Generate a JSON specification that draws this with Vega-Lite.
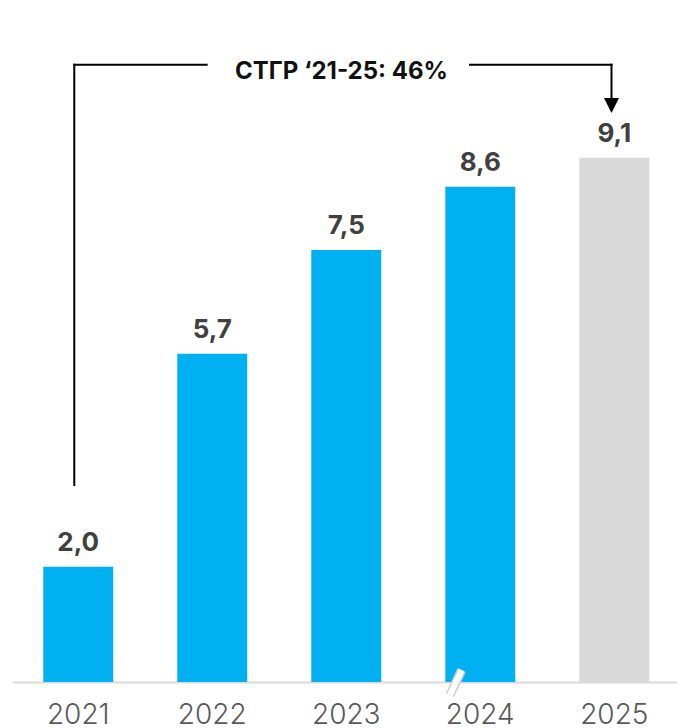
{
  "$schema": "https://vega.github.io/schema/vega-lite/v6.json",
  "width": 665,
  "height": 682,
  "autosize": {"type": "none"},
  "padding": {"left": 12, "top": 0, "right": 0, "bottom": 46},
  "background": "white",
  "config": {"view": {"stroke": null}},
  "datasets": {
    "bars": [
      {"year": "2021", "value": 2.0, "label": "2,0", "kind": "fact"},
      {"year": "2022", "value": 5.7, "label": "5,7", "kind": "fact"},
      {"year": "2023", "value": 7.5, "label": "7,5", "kind": "fact"},
      {"year": "2024", "value": 8.6, "label": "8,6", "kind": "fact"},
      {"year": "2025", "value": 9.1, "label": "9,1", "kind": "forecast"}
    ],
    "segments": [
      {"x": 2020.970, "x2": 2020.970, "y": 10.717, "y2": 3.420},
      {"x": 2020.970, "x2": 2021.958, "y": 10.717, "y2": 10.717},
      {"x": 2023.923, "x2": 2024.979, "y": 10.717, "y2": 10.717},
      {"x": 2024.979, "x2": 2024.979, "y": 10.717, "y2": 10.139}
    ],
    "arrow": [{"x": 2024.979, "y": 10.009}],
    "note": [{"x": 2022.964, "y": 10.464, "text": "СТГР ‘21-25: 46%"}],
    "brk": [{"x": 2023.861, "x2": 2023.774, "y": 0.208, "y2": -0.226}]
  },
  "layer": [
    {
      "data": {"name": "bars"},
      "encoding": {
        "x": {
          "field": "year",
          "type": "nominal",
          "sort": null,
          "scale": {"paddingInner": 0.478, "paddingOuter": 0.2201, "align": 0.53},
          "axis": {
            "title": null,
            "labelAngle": 0,
            "ticks": false,
            "grid": false,
            "domainColor": "#D9D9D9",
            "domainWidth": 2,
            "labelFont": "Inter",
            "labelFontSize": 28,
            "labelFontWeight": 300,
            "labelColor": "#595959",
            "labelPadding": 19
          }
        },
        "y": {
          "field": "value",
          "type": "quantitative",
          "scale": {"domain": [0, 11.84], "nice": false, "zero": true},
          "axis": null
        }
      },
      "layer": [
        {
          "mark": {"type": "bar"},
          "encoding": {
            "color": {
              "field": "kind",
              "type": "nominal",
              "scale": {"domain": ["fact", "forecast"], "range": ["#00B0F0", "#D9D9D9"]},
              "legend": null
            }
          }
        },
        {
          "mark": {
            "type": "text",
            "baseline": "alphabetic",
            "align": "center",
            "dy": -16,
            "font": "Inter",
            "fontSize": 26,
            "fontWeight": 700,
            "color": "#404040"
          },
          "encoding": {"text": {"field": "label"}}
        }
      ]
    },
    {
      "layer": [
        {
          "data": {"name": "brk"},
          "mark": {"type": "rule", "color": "#CFCFCF", "strokeWidth": 9, "strokeCap": "butt"},
          "encoding": {
            "x": {"field": "x", "type": "quantitative", "scale": {"domain": [2020.5052, 2025.4679], "nice": false, "zero": false}, "axis": null},
            "x2": {"field": "x2"},
            "y": {"field": "y", "type": "quantitative", "scale": {"domain": [0, 11.84], "nice": false, "zero": true}, "axis": null},
            "y2": {"field": "y2"}
          }
        },
        {
          "data": {"name": "brk"},
          "mark": {"type": "rule", "color": "#FFFFFF", "strokeWidth": 6, "strokeCap": "butt"},
          "encoding": {
            "x": {"field": "x", "type": "quantitative", "axis": null},
            "x2": {"field": "x2"},
            "y": {"field": "y", "type": "quantitative", "axis": null},
            "y2": {"field": "y2"}
          }
        },
        {
          "data": {"name": "segments"},
          "mark": {"type": "rule", "color": "#000000", "strokeWidth": 2, "strokeCap": "square"},
          "encoding": {
            "x": {"field": "x", "type": "quantitative", "axis": null},
            "x2": {"field": "x2"},
            "y": {"field": "y", "type": "quantitative", "axis": null},
            "y2": {"field": "y2"}
          }
        },
        {
          "data": {"name": "arrow"},
          "mark": {"type": "point", "shape": "M-1,-1L1,-1L0,1Z", "filled": true, "color": "#000000", "size": 225, "opacity": 1},
          "encoding": {
            "x": {"field": "x", "type": "quantitative", "axis": null},
            "y": {"field": "y", "type": "quantitative", "axis": null}
          }
        },
        {
          "data": {"name": "note"},
          "mark": {"type": "text", "align": "center", "baseline": "alphabetic", "font": "Inter", "fontSize": 24, "fontWeight": 700, "color": "#111111"},
          "encoding": {
            "x": {"field": "x", "type": "quantitative", "axis": null},
            "y": {"field": "y", "type": "quantitative", "axis": null},
            "text": {"field": "text"}
          }
        }
      ]
    }
  ],
  "resolve": {"scale": {"x": "independent"}}
}
